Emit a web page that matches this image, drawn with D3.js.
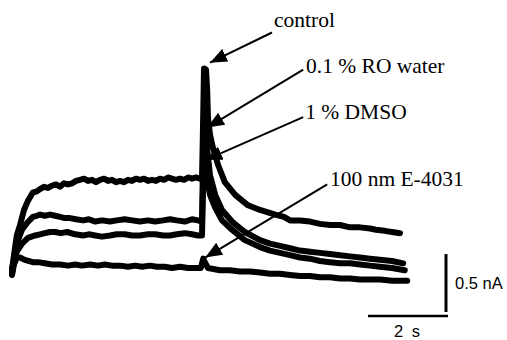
<!DOCTYPE html>
<html>
<head>
<meta charset="utf-8">
<script src="https://cdn.jsdelivr.net/npm/d3@7"></script>
<style>
  body { margin: 0; background: #fff; }
  .trace { fill: none; stroke: #000; stroke-width: 6; stroke-linejoin: round; stroke-linecap: round; }
  .label { font-family: "Liberation Serif", "Times New Roman", serif; font-size: 21.5px; fill: #000; }
  .bar-label { font-family: "Liberation Sans", Arial, sans-serif; font-size: 16.5px; fill: #000; }
</style>
</head>
<body>
<div id="chart"></div>
<script>
// time in s, current in nA (zero is arbitrary)
const controlTrace = [[0.00,0.15],[0.05,0.30],[0.12,0.47],[0.20,0.56],[0.30,0.69],[0.40,0.77],[0.52,0.84],[0.62,0.85],[0.70,0.87],[0.80,0.89],[0.90,0.88],[1.00,0.90],[1.10,0.91],[1.20,0.89],[1.30,0.92],[1.40,0.91],[1.50,0.92],[1.60,0.94],[1.70,0.95],[1.80,0.96],[1.90,0.94],[2.00,0.95],[2.10,0.93],[2.20,0.95],[2.30,0.96],[2.40,0.94],[2.50,0.95],[2.60,0.93],[2.70,0.94],[2.80,0.93],[2.90,0.95],[3.00,0.94],[3.10,0.96],[3.20,0.95],[3.30,0.96],[3.40,0.94],[3.50,0.95],[3.60,0.94],[3.70,0.96],[3.80,0.95],[3.90,0.97],[4.00,0.96],[4.10,0.95],[4.20,0.96],[4.30,0.95],[4.40,0.97],[4.50,0.96],[4.60,0.97],[4.70,0.96],[4.75,0.95],[4.78,1.50],[4.80,1.91],[4.85,1.90],[4.88,1.72],[4.90,1.48],[4.95,1.34],[5.02,1.23],[5.15,1.08],[5.32,0.93],[5.58,0.82],[5.90,0.73],[6.20,0.69],[6.40,0.67],[6.58,0.65],[6.80,0.63],[6.95,0.60],[7.20,0.60],[7.45,0.59],[7.70,0.57],[7.95,0.56],[8.20,0.56],[8.45,0.54],[8.70,0.54],[8.95,0.53],[9.10,0.52],[9.32,0.51],[9.50,0.50],[9.70,0.49]];
const roWaterTrace = [[0.00,0.19],[0.08,0.33],[0.15,0.43],[0.25,0.52],[0.38,0.58],[0.52,0.63],[0.62,0.64],[0.70,0.65],[0.82,0.64],[0.95,0.65],[1.08,0.64],[1.20,0.63],[1.32,0.62],[1.45,0.62],[1.60,0.61],[1.78,0.60],[1.92,0.61],[2.08,0.59],[2.25,0.60],[2.45,0.59],[2.62,0.60],[2.82,0.61],[3.00,0.60],[3.20,0.59],[3.40,0.60],[3.58,0.59],[3.78,0.60],[3.95,0.61],[4.12,0.60],[4.32,0.59],[4.50,0.61],[4.65,0.60],[4.75,0.59],[4.78,1.20],[4.80,1.51],[4.85,1.34],[4.88,1.21],[4.95,0.99],[5.08,0.82],[5.25,0.69],[5.50,0.59],[5.82,0.50],[6.20,0.43],[6.45,0.40],[6.70,0.38],[6.95,0.36],[7.20,0.34],[7.45,0.33],[7.70,0.32],[7.95,0.31],[8.20,0.30],[8.45,0.29],[8.70,0.28],[8.95,0.27],[9.20,0.26],[9.50,0.25],[9.78,0.23]];
const dmsoTrace = [[0.00,0.13],[0.05,0.24],[0.12,0.33],[0.25,0.40],[0.40,0.45],[0.58,0.47],[0.70,0.48],[0.82,0.49],[0.95,0.50],[1.08,0.50],[1.22,0.49],[1.38,0.50],[1.58,0.48],[1.78,0.47],[1.92,0.48],[2.08,0.47],[2.25,0.46],[2.45,0.47],[2.62,0.48],[2.82,0.48],[3.00,0.47],[3.20,0.47],[3.40,0.48],[3.58,0.48],[3.78,0.47],[3.95,0.47],[4.12,0.48],[4.32,0.49],[4.50,0.48],[4.65,0.47],[4.75,0.47],[4.78,0.95],[4.80,1.19],[4.85,1.08],[4.88,0.95],[4.95,0.82],[5.08,0.71],[5.25,0.60],[5.50,0.52],[5.82,0.43],[6.20,0.37],[6.45,0.34],[6.70,0.32],[6.95,0.30],[7.20,0.28],[7.45,0.27],[7.70,0.25],[7.95,0.24],[8.20,0.23],[8.45,0.23],[8.70,0.22],[8.95,0.21],[9.20,0.20],[9.50,0.19],[9.82,0.17]];
const e4031Trace = [[0.00,0.14],[0.05,0.22],[0.12,0.28],[0.20,0.28],[0.32,0.26],[0.52,0.24],[0.65,0.24],[0.82,0.23],[1.00,0.22],[1.20,0.22],[1.40,0.21],[1.58,0.22],[1.75,0.21],[1.95,0.22],[2.15,0.21],[2.32,0.22],[2.50,0.21],[2.70,0.21],[2.90,0.20],[3.08,0.21],[3.25,0.20],[3.45,0.21],[3.62,0.20],[3.82,0.20],[4.00,0.19],[4.20,0.20],[4.40,0.19],[4.58,0.19],[4.72,0.19],[4.78,0.27],[4.82,0.24],[4.90,0.19],[5.20,0.17],[5.45,0.17],[5.70,0.16],[5.95,0.16],[6.20,0.15],[6.45,0.14],[6.70,0.14],[6.95,0.13],[7.20,0.12],[7.45,0.12],[7.70,0.11],[7.95,0.11],[8.20,0.10],[8.45,0.10],[8.70,0.09],[8.95,0.09],[9.20,0.09],[9.50,0.08],[9.88,0.08]];

const traces = [controlTrace, roWaterTrace, dmsoTrace, e4031Trace];

// arrow labels: tip on the trace, start of line, text anchor (all in s / nA)
const labels = ["control", "0.1 % RO water", "1 % DMSO", "100 nm E-4031"];
const tips = [[4.95,1.96],[4.88,1.40],[4.83,1.12],[4.83,0.28]];
const starts = [[6.50,2.22],[7.28,1.90],[7.28,1.49],[7.88,0.91]];
const textAt = [[6.55,2.27],[7.35,1.87],[7.33,1.47],[7.95,0.90]];

// scale bars
const barTime = 2;      // s
const barCurrent = 0.5; // nA

const width = 507, height = 340;

const x = d3.scaleLinear().domain([0, 12]).range([12, 492]);
const y = d3.scaleLinear().domain([0, 2]).range([290, 58]);

const svg = d3.select("#chart").append("svg")
  .attr("width", width)
  .attr("height", height)
  .style("background", "#fff");

svg.append("defs").append("marker")
  .attr("id", "head")
  .attr("markerUnits", "userSpaceOnUse")
  .attr("markerWidth", 18)
  .attr("markerHeight", 14)
  .attr("refX", 17)
  .attr("refY", 7)
  .attr("orient", "auto")
  .append("path")
  .attr("d", "M0,0 L17,7 L0,14 Z")
  .attr("fill", "#000");

const line = d3.line()
  .x(d => x(d[0]))
  .y(d => y(d[1]));

svg.selectAll(".trace")
  .data(traces)
  .enter().append("path")
  .attr("class", "trace")
  .attr("d", line);

// annotation arrows
svg.selectAll(".arrow")
  .data(labels)
  .enter().append("line")
  .attr("class", "arrow")
  .attr("x1", (d, i) => x(starts[i][0]))
  .attr("y1", (d, i) => y(starts[i][1]))
  .attr("x2", (d, i) => x(tips[i][0]))
  .attr("y2", (d, i) => y(tips[i][1]))
  .attr("stroke", "#000")
  .attr("stroke-width", 2)
  .attr("marker-end", "url(#head)");

svg.selectAll(".label")
  .data(labels)
  .enter().append("text")
  .attr("class", "label")
  .attr("x", (d, i) => x(textAt[i][0]))
  .attr("y", (d, i) => y(textAt[i][1]))
  .text(d => d);

// scale bar: vertical 0.5 nA, horizontal 2 s
const barT = 10.85, barTop = 0.31;
svg.append("line")
  .attr("x1", x(barT)).attr("x2", x(barT))
  .attr("y1", y(barTop)).attr("y2", y(barTop - barCurrent))
  .attr("stroke", "#000").attr("stroke-width", 3);

const hBarI = -0.225;
svg.append("line")
  .attr("x1", x(barT + 0.05 - barTime)).attr("x2", x(barT + 0.05))
  .attr("y1", y(hBarI)).attr("y2", y(hBarI))
  .attr("stroke", "#000").attr("stroke-width", 2.5);

svg.append("text")
  .attr("class", "bar-label")
  .attr("x", x(barT) + 9)
  .attr("y", y(barTop - barCurrent / 2) + 6)
  .text(barCurrent + " nA");

svg.append("text")
  .attr("class", "bar-label")
  .attr("x", x(barT + 0.05 - barTime / 2))
  .attr("y", 337)
  .attr("text-anchor", "middle")
  .attr("letter-spacing", 2)
  .text(barTime + " s");
</script>
</body>
</html>
